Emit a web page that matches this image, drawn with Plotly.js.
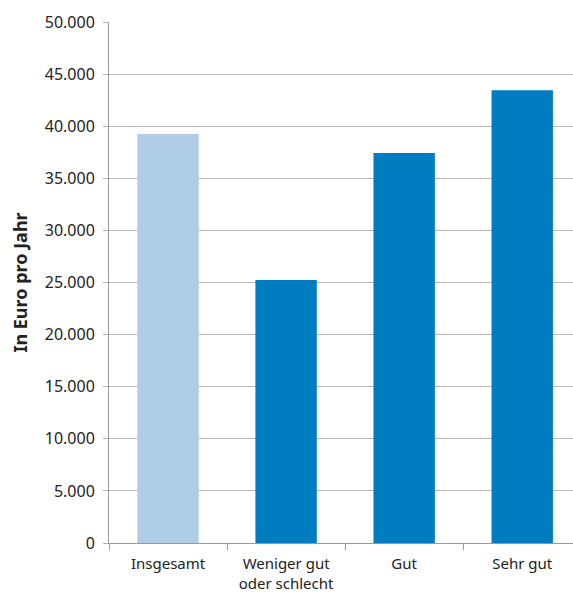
<!DOCTYPE html>
<html><head><meta charset="utf-8">
<script src="https://cdn.plot.ly/plotly-3.0.1.min.js"></script>
<style>body{margin:0;background:#fff}</style>
</head><body>
<div id="chart" style="width:573px;height:592px"></div>
<script>
const categories = ["Insgesamt", "Weniger gut<br>oder schlecht", "Gut", "Sehr gut"];
const values = [39250, 25250, 37430, 43450];
const barColors = ["#b0cde8", "#007dc1", "#007dc1", "#007dc1"];
const yTickVals = [0, 5000, 10000, 15000, 20000, 25000, 30000, 35000, 40000, 45000, 50000];

const font = "Noto Sans, Open Sans, sans-serif";
Plotly.newPlot("chart", [{
  type: "bar",
  x: categories,
  y: values,
  marker: {color: barColors},
  width: 0.52,
  hoverinfo: "none"
}], {
  width: 573, height: 592,
  margin: {l: 109, r: 0, t: 22, b: 49},
  paper_bgcolor: "#fff", plot_bgcolor: "#fff",
  showlegend: false,
  separators: ",.",
  font: {family: font, size: 15, color: "#222"},
  xaxis: {
    type: "category",
    range: [-0.5, 3.43],
    tickson: "boundaries",
    ticks: "outside", ticklen: 6, tickcolor: "#999",
    showline: true, linecolor: "#999", linewidth: 1,
    showgrid: false,
    ticklabelstandoff: 7,
    tickfont: {family: font, size: 15, color: "#222"}
  },
  yaxis: {
    range: [0, 50000],
    tickvals: yTickVals,
    tickformat: ",d",
    ticks: "outside", ticklen: 5, tickcolor: "#b0b0b0",
    showline: true, linecolor: "#999", linewidth: 1,
    showgrid: true, gridcolor: "#b8b8b8", gridwidth: 1,
    zeroline: false,
    ticklabelstandoff: 5,
    tickfont: {family: font, size: 16, color: "#222"},
    title: {text: "<b>In Euro pro Jahr</b>", font: {family: font, size: 18, color: "#222"}, standoff: 12}
  }
}, {displayModeBar: false, staticPlot: true});
</script>
</body></html>
